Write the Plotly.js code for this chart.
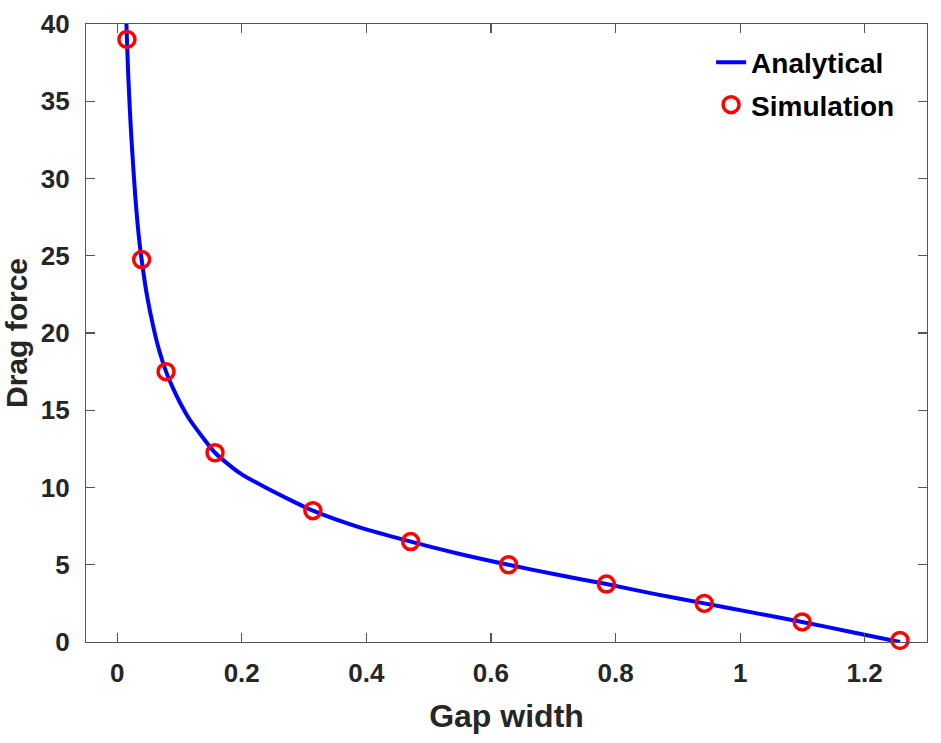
<!DOCTYPE html>
<html>
<head>
<meta charset="utf-8">
<script src="https://cdn.plot.ly/plotly-3.0.1.min.js"></script>
<style>html,body{margin:0;padding:0;background:#fff;}#chart{width:941px;height:743px;}</style>
</head>
<body>
<div id="chart"></div>
<script>
// Analytical curve
const analyticalX = [0.0149, 0.0157, 0.0180, 0.0223, 0.0292, 0.0352, 0.0393, 0.0480, 0.0586, 0.0680, 0.0785, 0.0900, 0.1014, 0.1148, 0.1363, 0.1571, 0.1800, 0.2000, 0.2406, 0.2800, 0.3142, 0.3904, 0.4712, 0.5500, 0.6283, 0.7070, 0.7854, 0.8640, 0.9425, 1.0210, 1.0996, 1.1780, 1.2566];
const analyticalY = [40.0, 39.0, 36.5, 33.0, 28.8, 26.1, 24.75, 22.4, 20.3, 18.8, 17.5, 16.4, 15.45, 14.5, 13.3, 12.25, 11.45, 10.85, 9.95, 9.15, 8.5, 7.4, 6.5, 5.7, 5.0, 4.35, 3.75, 3.1, 2.5, 1.9, 1.3, 0.65, 0.0];
// Simulation points
const simulationX = [0.0157, 0.0393, 0.0785, 0.1571, 0.3142, 0.4712, 0.6283, 0.7854, 0.9425, 1.0996, 1.2566];
const simulationY = [39.0, 24.75, 17.5, 12.25, 8.5, 6.5, 5.0, 3.75, 2.5, 1.3, 0.1];
const xTicks = [0, 0.2, 0.4, 0.6, 0.8, 1, 1.2];
const xTickText = ["0", "0.2", "0.4", "0.6", "0.8", "1", "1.2"];
const yTicks = [0, 5, 10, 15, 20, 25, 30, 35, 40];
const yTickText = ["0", "5", "10", "15", "20", "25", "30", "35", "40"];

const FONT = "Liberation Sans, Arial, Helvetica, sans-serif";

const traces = [
  {
    x: analyticalX, y: analyticalY, name: "Analytical", type: "scatter", mode: "lines",
    legendgroup: "a",
    line: {color: "#0000ff", width: 4, shape: "spline", smoothing: 0.8}
  },
  {
    x: simulationX, y: simulationY, name: "Simulation", type: "scatter", mode: "markers",
    legendgroup: "s",
    marker: {symbol: "circle-open", size: 16, color: "#ff0000", line: {color: "#ff0000", width: 3.5}},
    cliponaxis: false
  }
];

const axisCommon = {
  showgrid: false, zeroline: false, showline: true, linecolor: "#555", linewidth: 1.2,
  ticks: "inside", ticklen: 9, tickwidth: 1.2, tickcolor: "#555", mirror: "ticks",
  tickfont: {family: FONT, size: 26, color: "#262626", weight: 700},
  automargin: false
};

const layout = {
  width: 941, height: 743,
  margin: {l: 86, r: 14, t: 24, b: 101},
  paper_bgcolor: "#fff", plot_bgcolor: "#fff",
  showlegend: true,
  xaxis: Object.assign({}, axisCommon, {
    range: [-0.05, 1.3], tickvals: xTicks, ticktext: xTickText, ticklabelstandoff: 8,
    title: {text: "Gap width", font: {family: FONT, size: 32, color: "#262626", weight: 700}, standoff: 17}
  }),
  yaxis: Object.assign({}, axisCommon, {
    range: [0, 40], tickvals: yTicks, ticktext: yTickText, ticklabelstandoff: 10,
    title: {text: "Drag force", font: {family: FONT, size: 30, color: "#262626", weight: 700}, standoff: 10}
  }),
  legend: {
    x: 0.968, y: 0.978, xanchor: "right", yanchor: "top",
    bgcolor: "rgba(0,0,0,0)", borderwidth: 0,
    font: {family: FONT, size: 28, color: "#000", weight: 700},
    traceorder: "grouped", tracegroupgap: 3
  }
};

Plotly.newPlot("chart", traces, layout, {displayModeBar: false, staticPlot: true});
</script>
</body>
</html>
